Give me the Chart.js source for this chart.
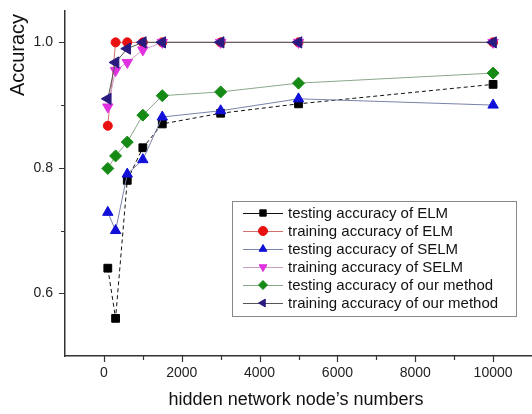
<!DOCTYPE html>
<html>
<head>
<meta charset="utf-8">
<script src="https://cdn.jsdelivr.net/npm/chart.js@4/dist/chart.umd.min.js"></script>
<style>
  html, body { margin: 0; padding: 0; background: #fff; }
  #wrap { width: 532px; height: 414px; }
</style>
</head>
<body>
<div id="wrap"><canvas id="myChart" width="532" height="414"></canvas></div>
<script>
// hidden node counts (x) and accuracy per method
const nodes = [100, 300, 600, 1000, 1500, 3000, 5000, 10000];
const elmTest = [0.64, 0.56, 0.78, 0.832, 0.870, 0.887, 0.902, 0.933];
const elmTrain = [0.867, 1, 1, 1, 1, 1, 1, 1];
const selmTest = [0.729, 0.70, 0.79, 0.813, 0.881, 0.891, 0.910, 0.900];
const selmTrain = [0.897, 0.955, 0.968, 0.988, 1, 1, 1, 1];
const oursTest = [0.799, 0.819, 0.841, 0.884, 0.915, 0.921, 0.935, 0.951];
const oursTrain = [0.91, 0.968, 0.99, 1, 1, 1, 1, 1];

const seriesLabels = [
    'testing accuracy of ELM',
    'training accuracy of ELM',
    'testing accuracy of SELM',
    'training accuracy of SELM',
    'testing accuracy of our method',
    'training accuracy of our method'
];
const xLabels = [0, 2000, 4000, 6000, 8000, 10000];
const yLabels = [0.6, 0.8, 1.0];

const FONT = "'Liberation Sans', Arial, sans-serif";

const pts = function (ys) {
    return nodes.map((x, i) => ({x: x, y: ys[i]}));
};

const mk = function (label, ys, color, line, style, rot, radius, order, dash) {
    return {
        label: label,
        data: pts(ys),
        showLine: true,
        borderColor: line,
        borderWidth: 1,
        borderDash: dash || [],
        pointStyle: style,
        rotation: rot,
        pointRadius: radius,
        pointBackgroundColor: color,
        pointBorderColor: color,
        pointBorderWidth: 1,
        order: order,
        markColor: color
    };
};

const datasets = [
    mk(seriesLabels[0], elmTest, '#000000', '#111111', 'rect', 0, 5.5, 6, [4, 3]),
    mk(seriesLabels[1], elmTrain, '#e81010', '#d07070', 'circle', 0, 4.5, 5),
    mk(seriesLabels[2], selmTest, '#1010d8', '#7a82a8', 'triangle', 0, 6, 4),
    mk(seriesLabels[3], selmTrain, '#e030e0', '#c8a0c8', 'triangle', 180, 6, 3),
    mk(seriesLabels[4], oursTest, '#158a15', '#8aa88a', 'rectRot', 0, 6, 2),
    mk(seriesLabels[5], oursTrain, '#2a1a80', '#555555', 'triangle', -90, 6.5, 1)
];

// drop the label padding chart.js adds so the plot area lands where the original is
const noPad = function (s) {
    s.paddingLeft = 0;
    s.paddingRight = 0;
    s.paddingTop = 0;
    s.paddingBottom = 0;
};

// ticks, axis titles and the boxed legend
const decor = {
    id: 'decor',
    afterDraw(chart) {
        const c = chart.ctx;
        const xs = chart.scales.x, ys = chart.scales.y;
        const area = chart.chartArea;
        c.save();
        c.strokeStyle = '#333';
        c.lineWidth = 1.2;
        c.beginPath();
        for (let v = 0; v <= 10000; v += 1000) {
            const px = Math.round(xs.getPixelForValue(v)) + 0.5;
            const len = v % 2000 === 0 ? 6 : 4;
            c.moveTo(px, area.bottom);
            c.lineTo(px, area.bottom + len);
        }
        for (let k = 6; k <= 10; k++) {
            const py = Math.round(ys.getPixelForValue(k / 10)) + 0.5;
            const len = k % 2 === 0 ? 6 : 4;
            c.moveTo(area.left, py);
            c.lineTo(area.left - len, py);
        }
        c.stroke();

        // axis titles
        c.fillStyle = '#111';
        c.font = '18px ' + FONT;
        c.textAlign = 'center';
        c.textBaseline = 'alphabetic';
        c.fillText("hidden network node\u2019s numbers", 296, 405);
        c.save();
        c.translate(24, 55);
        c.rotate(-Math.PI / 2);
        c.font = '20px ' + FONT;
        c.fillText('Accuracy', 0, 0);
        c.restore();

        // legend
        const bx = 232, by = 201, bw = 284, bh = 115;
        c.fillStyle = '#fff';
        c.fillRect(bx, by, bw, bh);
        c.strokeStyle = '#888';
        c.lineWidth = 1;
        c.strokeRect(bx + 0.5, by + 0.5, bw, bh);
        c.font = '15px ' + FONT;
        c.textAlign = 'left';
        c.textBaseline = 'middle';
        chart.data.datasets.forEach(function (ds, i) {
            const y = 213 + i * 18;
            c.strokeStyle = ds.borderColor;
            c.lineWidth = 1;
            c.setLineDash([]);
            c.beginPath();
            c.moveTo(243, y + 0.5);
            c.lineTo(283, y + 0.5);
            c.stroke();
            c.fillStyle = ds.markColor;
            c.strokeStyle = ds.markColor;
            Chart.helpers.drawPoint(c, {pointStyle: ds.pointStyle, rotation: ds.rotation, radius: 4.5, borderWidth: 1}, 263, y);
            c.fillStyle = '#111';
            c.fillText(ds.label, 288, y + 1);
        });
        c.restore();
    }
};

new Chart(document.getElementById('myChart'), {
    type: 'scatter',
    data: {datasets: datasets},
    options: {
        responsive: false,
        animation: false,
        layout: {autoPadding: false, padding: {top: 11, right: 0, left: 0, bottom: 0}},
        plugins: {legend: {display: false}, tooltip: {enabled: false}},
        scales: {
            x: {
                type: 'linear',
                min: -1000,
                max: 11000,
                grid: {drawOnChartArea: false, drawTicks: false},
                border: {color: '#333', width: 1.5},
                ticks: {
                    stepSize: 1000,
                    includeBounds: false,
                    autoSkip: false,
                    maxRotation: 0,
                    padding: 9,
                    color: '#222',
                    font: {family: FONT, size: 14},
                    callback: function (v) {
                        return xLabels.indexOf(v) > -1 ? String(v) : '';
                    }
                },
                afterFit: function (s) { s.height = 58; noPad(s); }
            },
            y: {
                min: 0.5,
                max: 1.05,
                grid: {drawOnChartArea: false, drawTicks: false},
                border: {color: '#333', width: 1.5},
                ticks: {
                    stepSize: 0.1,
                    includeBounds: false,
                    autoSkip: false,
                    padding: 12,
                    color: '#222',
                    font: {family: FONT, size: 14},
                    callback: function (v) {
                        const hit = yLabels.find(t => Math.abs(t - v) < 1e-6);
                        return hit !== undefined ? hit.toFixed(1) : '';
                    }
                },
                afterFit: function (s) { s.width = 65; noPad(s); }
            }
        }
    },
    plugins: [decor]
});
</script>
</body>
</html>
